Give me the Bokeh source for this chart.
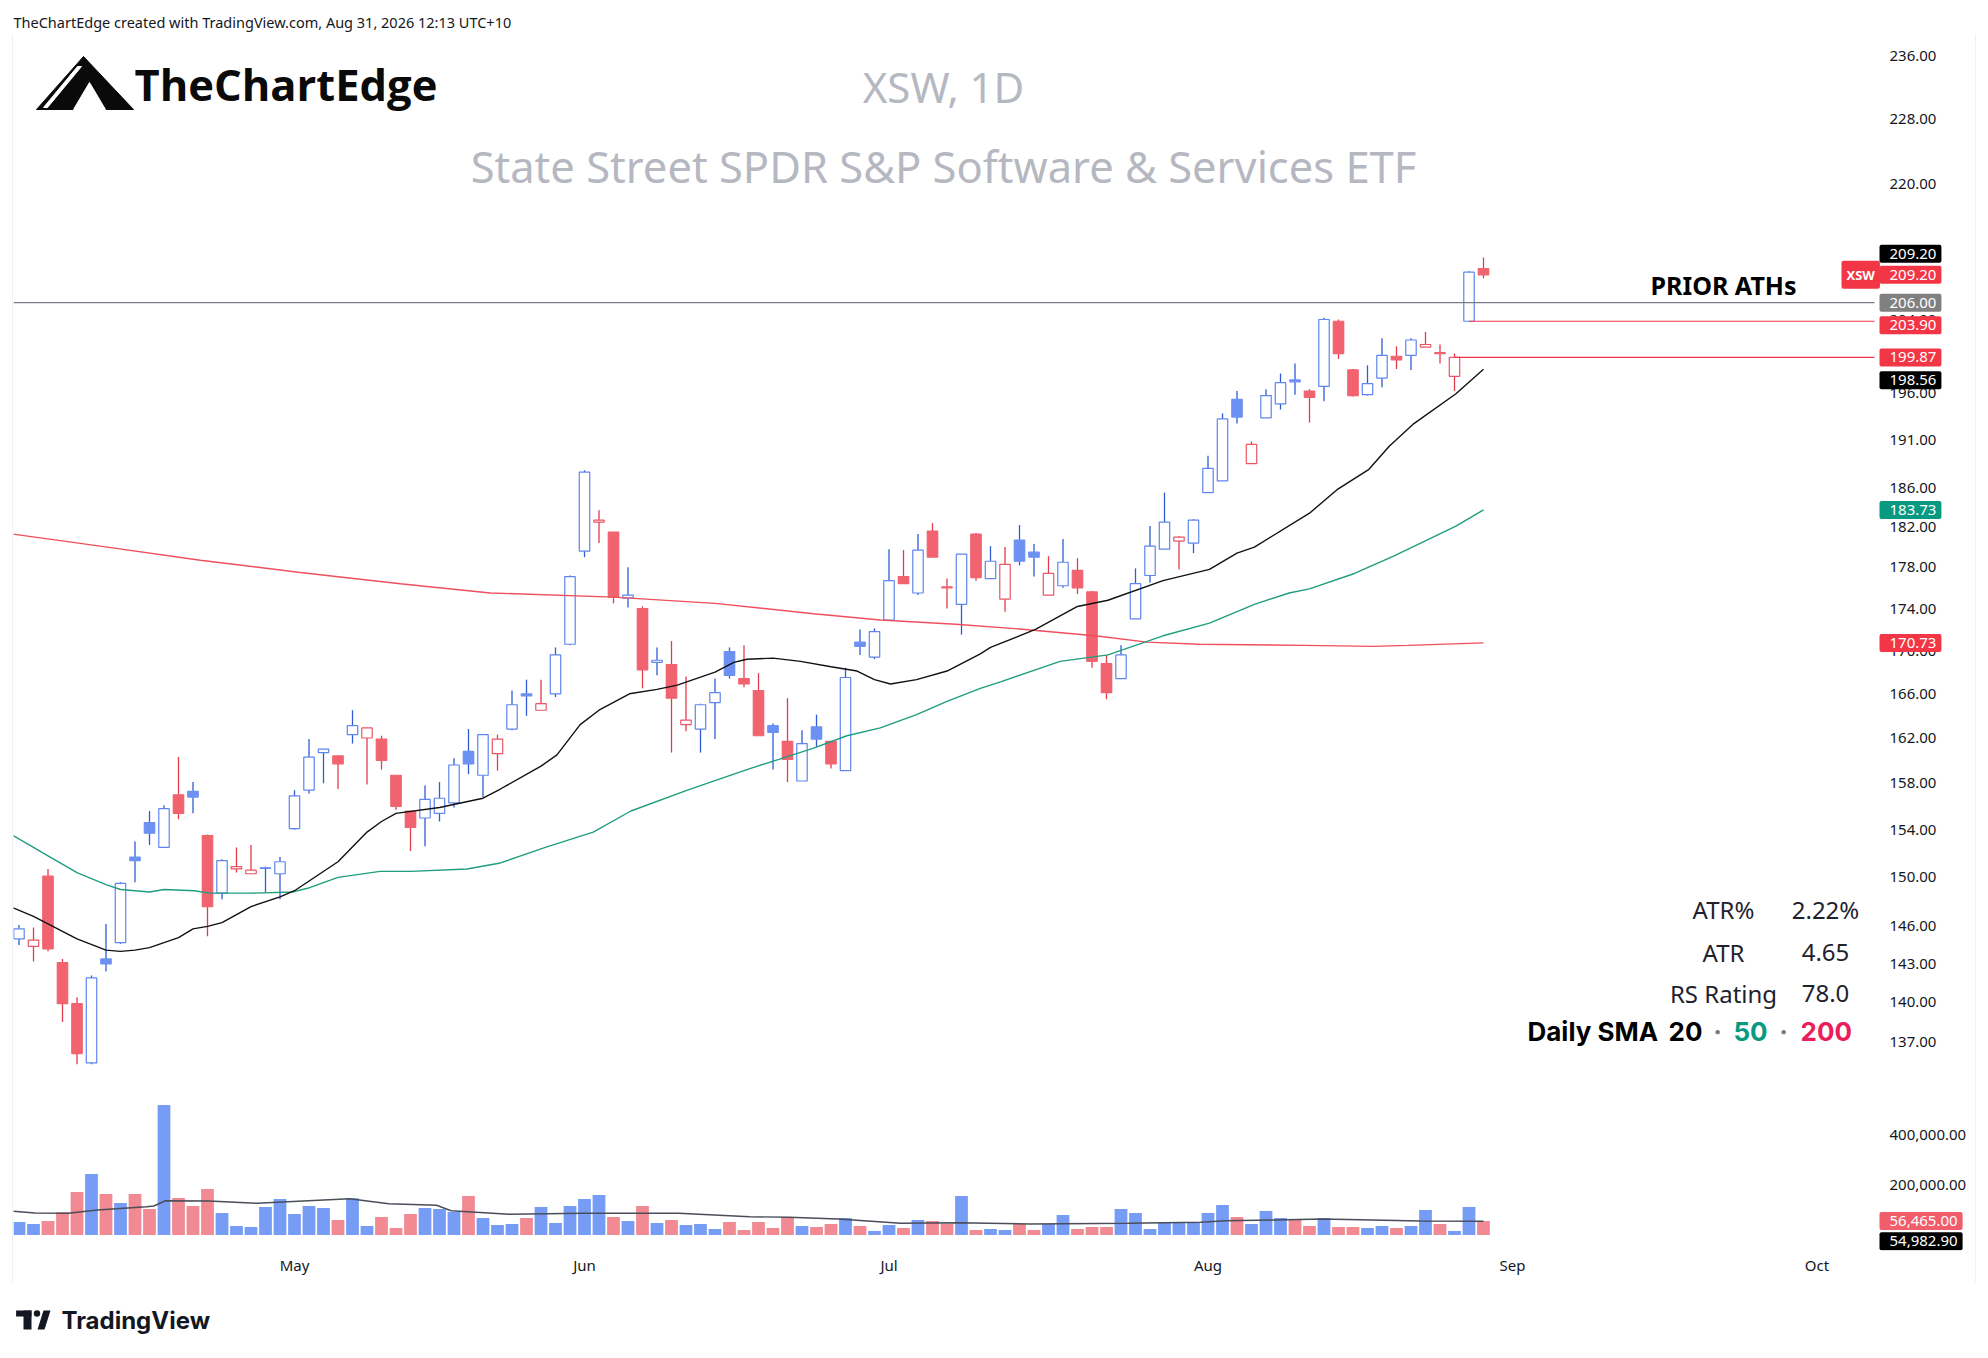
import numpy as np
import pandas as pd
from bokeh.plotting import figure
from bokeh.models import (Range1d, FixedTicker, Label, ColumnDataSource, LinearScale, Spacer)
from bokeh.layouts import column, row
from bokeh.embed import file_html
from bokeh.resources import INLINE

# ---------------------------------------------------------------- data
start_date = "2026-04-06"
end_date = "2026-10-30"
holidays = ["2026-05-25", "2026-06-19", "2026-07-03", "2026-09-07"]

opens = [145.0, 144.4, 150.1, 143.1, 139.9, 135.4, 143.4, 144.7, 151.7, 154.6,
         152.5, 157.0, 157.3, 153.5, 148.7, 150.7, 150.3, 150.75, 150.3, 154.1,
         157.4, 160.7, 160.4, 162.3, 162.0, 161.9, 158.7, 155.6, 155.0, 155.4,
         156.3, 160.8, 158.7, 160.6, 162.8, 166.0, 164.5, 166.0, 170.6, 179.6,
         182.5, 181.5, 175.0, 174.0, 168.9, 168.7, 163.2, 162.8, 165.2, 169.9,
         167.4, 166.3, 163.1, 161.7, 158.2, 163.0, 161.7, 159.1, 170.8, 169.4,
         172.9, 177.1, 175.5, 181.6, 176.1, 174.4, 181.3, 176.9, 174.9, 180.7,
         179.5, 175.3, 176.2, 177.7, 175.6, 168.8, 167.4, 173.0, 177.2, 179.8,
         180.6, 180.4, 185.5, 186.7, 195.3, 188.5, 193.3, 194.8, 197.4, 196.2,
         196.7, 203.9, 198.5, 195.8, 197.6, 200.0, 200.1, 201.0, 200.4, 197.8,
         203.9, 209.9]
highs = [146.1, 145.9, 150.7, 143.4, 140.4, 142.1, 146.2, 149.6, 153.0, 155.6,
         156.1, 160.3, 158.1, 153.6, 151.5, 152.5, 152.7, 150.9, 151.7, 157.4,
         161.9, 161.0, 160.4, 164.5, 162.9, 162.2, 158.7, 155.6, 157.8, 158.1,
         160.2, 162.8, 162.3, 162.3, 166.3, 167.3, 167.3, 170.3, 177.2, 187.8,
         183.7, 181.5, 178.0, 174.2, 170.3, 170.9, 167.6, 165.1, 167.4, 170.3,
         170.5, 167.9, 163.3, 165.6, 162.7, 164.1, 161.7, 168.4, 172.0, 172.1,
         179.8, 179.7, 181.3, 182.4, 176.9, 179.3, 181.4, 180.1, 180.0, 182.2,
         180.3, 179.1, 180.8, 178.9, 175.7, 169.6, 170.5, 177.9, 182.1, 185.5,
         181.1, 182.8, 189.3, 193.8, 196.2, 190.8, 196.4, 198.1, 199.2, 196.4,
         204.3, 204.1, 198.6, 199.0, 202.0, 201.1, 202.0, 202.7, 201.3, 200.3,
         209.6, 211.2]
lows = [144.5, 143.2, 144.0, 138.5, 135.3, 135.3, 142.4, 144.6, 149.6, 152.7,
        152.5, 154.9, 155.4, 145.2, 148.2, 150.4, 150.3, 148.8, 148.2, 154.0,
        157.1, 158.0, 157.5, 161.5, 157.9, 159.2, 155.7, 152.2, 152.6, 154.7,
        155.9, 158.8, 156.8, 159.1, 162.7, 164.0, 164.5, 165.7, 170.5, 179.0,
        180.4, 174.5, 174.1, 166.5, 167.7, 160.7, 162.6, 160.7, 161.9, 167.4,
        166.6, 162.2, 159.2, 158.1, 158.2, 161.2, 159.3, 159.1, 169.6, 169.2,
        172.8, 176.4, 175.3, 179.0, 174.0, 171.5, 176.7, 176.9, 173.7, 178.2,
        177.1, 175.3, 176.0, 175.4, 168.4, 165.5, 167.4, 173.0, 176.5, 179.8,
        177.8, 179.4, 185.5, 186.7, 192.7, 188.5, 193.3, 194.2, 195.8, 192.8,
        195.1, 199.7, 195.6, 195.7, 196.6, 198.6, 198.5, 201.0, 199.2, 196.2,
        203.9, 208.8]
closes = [145.8, 144.9, 144.2, 139.9, 136.1, 141.9, 143.0, 149.5, 151.4, 153.7,
          155.8, 155.4, 156.8, 147.6, 151.4, 150.9, 150.6, 150.8, 151.3, 156.9,
          160.3, 161.0, 159.7, 163.1, 162.9, 160.0, 156.0, 154.2, 156.6, 156.7,
          159.6, 159.7, 162.3, 161.9, 165.0, 165.8, 165.1, 169.6, 177.1, 187.6,
          182.7, 175.1, 175.3, 168.2, 169.1, 165.6, 163.6, 165.0, 166.1, 167.7,
          166.9, 162.2, 162.5, 160.1, 161.5, 161.9, 159.7, 167.5, 170.4, 171.8,
          176.7, 176.4, 179.7, 179.0, 176.0, 179.3, 177.0, 178.6, 178.3, 178.6,
          179.0, 177.4, 178.5, 176.0, 169.0, 166.1, 169.6, 176.4, 180.1, 182.5,
          181.0, 182.7, 188.0, 193.2, 193.4, 190.5, 195.7, 197.1, 197.2, 195.5,
          204.1, 200.3, 195.7, 197.0, 200.1, 199.6, 201.8, 201.3, 200.3, 199.87,
          209.5, 209.2]
volumes = [52000, 44000, 56000, 91000, 172000, 244000, 164000, 128000, 164000, 104000,
           520000, 148000, 116000, 184000, 88000, 36000, 32000, 112000, 144000, 84000,
           116000, 108000, 60000, 147000, 36000, 72000, 28000, 84000, 108000, 104000,
           92000, 156000, 68000, 40000, 44000, 68000, 112000, 48000, 116000, 144000,
           160000, 72000, 56000, 116000, 48000, 60000, 40000, 44000, 24000, 52000,
           20000, 52000, 28000, 68000, 36000, 32000, 44000, 68000, 36000, 16000,
           40000, 28000, 60000, 56000, 44000, 156000, 20000, 24000, 20000, 44000,
           20000, 44000, 80000, 24000, 32000, 32000, 104000, 88000, 24000, 51000,
           52000, 52000, 88000, 120000, 72000, 44000, 96000, 68000, 64000, 36000,
           68000, 32000, 32000, 28000, 36000, 28000, 36000, 100000, 44000, 16000,
           112000, 56465]

# moving averages (bar position, value)
sma20_x = [-0.4, 1, 2, 4, 6, 7, 8, 9, 11, 12, 13, 14, 16, 18, 19, 22, 24, 25, 26, 29,
           32, 33.2, 36, 37.1, 38.7, 40, 42.1, 44, 45.4, 48, 49.3, 50.2, 52, 53.9, 56,
           57.8, 59, 60.1, 61.9, 64, 66.3, 67, 70.1, 73, 75.1, 78.9, 82.1, 84, 85.2, 89,
           90.9, 93.1, 94.5, 96.2, 99.1, 101]
sma20_y = [147.5, 146.8, 146.2, 145.0, 144.1, 144.0, 144.1, 144.3, 145.1, 145.8,
           146.0, 146.3, 147.6, 148.4, 148.9, 151.3, 153.8, 154.7, 155.4, 155.9,
           156.7, 157.5, 159.5, 160.5, 163.2, 164.5, 166.0, 166.4, 166.8, 168.0,
           168.9, 169.2, 169.3, 169.0, 168.5, 168.1, 167.3, 166.9, 167.3, 168.1,
           169.7, 170.3, 172.0, 174.2, 174.8, 176.7, 177.8, 179.4, 180.0, 183.4,
           185.8, 187.9, 190.3, 192.7, 195.9, 198.56]
sma50_x = [-0.4, 1, 2, 4, 6, 7, 9, 10, 12.1, 13.1, 16, 18.9, 19.9, 22, 24.9, 27, 30.9,
           33.2, 36.3, 39.6, 42.2, 46.1, 50.2, 52.4, 54.8, 57.1, 59.4, 61.9, 64, 66.3,
           67.7, 71.8, 75.1, 76.6, 78.9, 82.1, 85.2, 87.6, 89, 92.1, 94.8, 99.1, 101]
sma50_y = [153.5, 152.5, 151.8, 150.4, 149.4, 149.0, 148.8, 149.0, 148.9, 148.7,
           148.7, 148.8, 149.1, 150.0, 150.5, 150.5, 150.7, 151.2, 152.5, 153.8,
           155.6, 157.4, 159.2, 160.1, 161.1, 162.2, 162.9, 164.1, 165.3, 166.5,
           167.1, 169.0, 169.6, 170.3, 171.4, 172.6, 174.4, 175.5, 175.9, 177.4,
           179.1, 182.1, 183.73]
sma200_x = [-0.4, 5.6, 12.5, 19.4, 26.3, 32.5, 41, 48, 54.8, 59.4, 64.6, 69.4, 74.2,
            77.8, 81.4, 88.6, 93.4, 95.8, 101]
sma200_y = [181.3, 180.1, 178.7, 177.5, 176.4, 175.5, 175.1, 174.5, 173.5, 172.9,
            172.5, 172.0, 171.4, 170.8, 170.6, 170.5, 170.4, 170.5, 170.73]
vma_x = [-0.4, 1.1, 3.4, 5.4, 8.8, 9.3, 10.1, 13.1, 16.4, 22.8, 25.5, 28.8, 29.8, 33.8,
         38.9, 45.5, 50.4, 53.1, 56.5, 60.8, 64.8, 69.8, 76.5, 81.5, 83.2, 86.6, 89.9,
         93.3, 96.6, 101]
vma_y = [95000, 88000, 87000, 100000, 113000, 116000, 137000, 136000, 127000, 145000,
         125000, 119000, 97000, 83000, 87000, 87000, 73000, 71000, 64000, 47000,
         49000, 44000, 47000, 51000, 57000, 60000, 64000, 60000, 56000, 54982.9]

prior_ath = 206.00
black_close_tag = 209.20
price_ticks = [137, 140, 143, 146, 150, 154, 158, 162, 166, 170, 174, 178, 182, 186,
               191, 196, 200, 204, 212, 220, 228, 236]
vol_ticks = [200000, 400000]
ticker_name = "XSW"
title_1 = "XSW, 1D"
title_2 = "State Street SPDR S&P Software & Services ETF"
header_text = "TheChartEdge created with TradingView.com, Aug 31, 2026 12:13 UTC+10"
stat_labels = ["ATR%", "ATR", "RS Rating"]
stat_values = ["2.22%", "4.65", "78.0"]

# ---------------------------------------------------------------- derived
days = pd.bdate_range(start_date, end_date)
days = days[~days.isin(pd.to_datetime(holidays))]
month_idx, month_lbl = [], []
for k in range(1, len(days)):
    if days[k].month != days[k - 1].month:
        month_idx.append(k)
        month_lbl.append(days[k].strftime("%b"))

o = np.array(opens); h = np.array(highs); l = np.array(lows); c = np.array(closes)
n = len(c)
xs = np.arange(n)
prev = np.concatenate([[o[0]], c[:-1]])
up = c >= prev
hollow = c >= o

BLUE_BODY, BLUE_EDGE, BLUE_WICK = "#6d91f2", "#5f86ef", "#2f5cd6"
RED_BODY, RED_EDGE, RED_WICK = "#f0636f", "#ec5664", "#e03c4b"
VOL_BLUE, VOL_RED = "#769cf6", "#f18a93"
TEAL, RED = "#089981", "#f23645"
AX_FONT = "Noto Sans"
TXT = "#131722"

fill = np.where(hollow, "white", np.where(up, BLUE_BODY, RED_BODY))
edge = np.where(up, np.where(hollow, BLUE_EDGE, BLUE_BODY), np.where(hollow, RED_EDGE, RED_BODY))
wick = np.where(up, BLUE_WICK, RED_WICK)

src = ColumnDataSource(dict(x=xs, top=np.maximum(o, c), bottom=np.minimum(o, c), high=h, low=l,
                            fill=list(fill), edge=list(edge), wick=list(wick)))
vsrc = ColumnDataSource(dict(x=xs, vol=volumes,
                             vcol=[VOL_BLUE if cc >= oo else VOL_RED for oo, cc in zip(o, c)]))

# ---------------------------------------------------------------- geometry
W = 1962          # chart width inside the border (plot area + price scale)
PW = 1861         # width of the plot area (left of the price scale)
PH = 1053         # price pane height
VH = 192          # volume pane + date axis
BAR0, BARW = 5.5, 14.5          # first bar pixel (relative to pane) and bar spacing
x0 = -BAR0 / BARW
x_plot_end = (PW - BAR0) / BARW
xr = Range1d(x0, (W - BAR0) / BARW)
LBL_X = 1876      # left edge of scale labels (pane pixels)


def scale_text(fig, values, texts):
    fig.text(x=[LBL_X] * len(values), y=values, text=texts, x_range_name="px",
             text_font={"value": AX_FONT}, text_font_size="15px", text_color=TXT,
             text_align="left", text_baseline="middle")


def scale_box(fig, y, text, bg, y_off=0):
    fig.add_layout(Label(x=LBL_X - 10, y=y, x_range_name="px", text=text,
                         text_font=AX_FONT, text_font_size="15px", text_color="white",
                         text_align="left", text_baseline="middle", y_offset=y_off,
                         background_fill_color=bg, border_radius=2,
                         padding=dict(left=10, right=5, top=4, bottom=4)))


# ---------------------------------------------------------------- price pane
p = figure(width=W, height=PH, x_range=xr, y_range=Range1d(133.5, 238.74),
           y_axis_type="log", y_axis_location=None, x_axis_location=None,
           toolbar_location=None, output_backend="svg", min_border=0,
           outline_line_color=None, background_fill_color="white", border_fill_color="white")
p.grid.visible = False
p.extra_x_ranges = {"px": Range1d(0, W)}
p.extra_y_ranges = {"py": Range1d(0, PH)}
p.extra_x_scales = {"px": LinearScale()}
p.extra_y_scales = {"py": LinearScale()}

scale_text(p, price_ticks, [f"{t:.2f}" for t in price_ticks])

# candles
p.segment(x0="x", y0="high", x1="x", y1="top", line_color="wick", line_width=1.3, source=src)
p.segment(x0="x", y0="bottom", x1="x", y1="low", line_color="wick", line_width=1.3, source=src)
p.vbar(x="x", width=0.72, top="top", bottom="bottom", fill_color="fill",
       line_color="edge", line_width=1.2, source=src)

# moving averages
p.line(sma200_x, sma200_y, line_color="#ef4f5d", line_width=1.4)
p.line(sma50_x, sma50_y, line_color="#1f9d7e", line_width=1.4)
p.line(sma20_x, sma20_y, line_color="#111111", line_width=1.4)

# horizontal levels (end at the price scale)
p.segment(x0=[x0], y0=[prior_ath], x1=[x_plot_end], y1=[prior_ath],
          line_color="#787b86", line_width=1.2)
gap_start = [n - 3, n - 2]
gap_level = [closes[n - 3], opens[n - 2]]
p.segment(x0=gap_start, y0=gap_level, x1=[x_plot_end] * 2, y1=gap_level,
          line_color=RED, line_width=1.2)

scale_box(p, black_close_tag, f"{black_close_tag:.2f}", "#000000", 21)
scale_box(p, closes[-1], f"{closes[-1]:.2f}", RED)
scale_box(p, prior_ath, f"{prior_ath:.2f}", "#808080")
scale_box(p, opens[n - 2], f"{opens[n - 2]:.2f}", RED, -4)
scale_box(p, closes[n - 3], f"{closes[n - 3]:.2f}", RED)
scale_box(p, sma20_y[-1], f"{sma20_y[-1]:.2f}", "#000000", -11)
scale_box(p, sma50_y[-1], f"{sma50_y[-1]:.2f}", TEAL)
scale_box(p, sma200_y[-1], f"{sma200_y[-1]:.2f}", RED)
p.add_layout(Label(x=1828, y=closes[-1], x_range_name="px", text=ticker_name,
                   text_font=AX_FONT, text_font_size="13px", text_font_style="bold",
                   text_color="white", text_align="left", text_baseline="middle",
                   background_fill_color=RED, border_radius=2,
                   padding=dict(left=5, right=5, top=5, bottom=5)))

# watermark titles
p.add_layout(Label(x=930, y=1002, x_range_name="px", y_range_name="py", text=title_1,
                   text_font=AX_FONT, text_font_size="42px", text_color="#b5b8c1",
                   text_align="center", text_baseline="middle"))
p.add_layout(Label(x=930, y=923, x_range_name="px", y_range_name="py", text=title_2,
                   text_font=AX_FONT, text_font_size="43.5px", text_color="#b5b8c1",
                   text_align="center", text_baseline="middle"))

# logo
p.patch([23, 70, 120], [979, 1032, 979], x_range_name="px", y_range_name="py",
        fill_color="#0a0a0a", line_color="#0a0a0a")
p.patch([64, 68, 34, 30], [1022, 1022, 981, 981], x_range_name="px", y_range_name="py",
        fill_color="white", line_color="white")
p.patch([60, 76, 92], [979, 1006, 979], x_range_name="px", y_range_name="py",
        fill_color="white", line_color="white")
p.add_layout(Label(x=121, y=1004, x_range_name="px", y_range_name="py", text="TheChartEdge",
                   text_font="Open Sans", text_font_size="43.5px", text_font_style="bold",
                   text_color="#0a0a0a", text_align="left", text_baseline="middle"))

# annotation
p.add_layout(Label(x=1710, y=804, x_range_name="px", y_range_name="py", text="PRIOR ATHs",
                   text_font=AX_FONT, text_font_size="25px", text_font_style="bold",
                   text_color="#000000", text_align="center", text_baseline="middle"))

# stats table
for lab, val, yy in zip(stat_labels, stat_values, [179, 136, 95]):
    p.add_layout(Label(x=1710, y=yy, x_range_name="px", y_range_name="py", text=lab,
                       text_font=AX_FONT, text_font_size="24px", text_color="#1e222d",
                       text_align="center", text_baseline="middle"))
    p.add_layout(Label(x=1812, y=yy, x_range_name="px", y_range_name="py", text=val,
                       text_font=AX_FONT, text_font_size="24px", text_color="#1e222d",
                       text_align="center", text_baseline="middle"))
sma_parts = [("Daily SMA", 1514, "left", "#000000"), ("20", 1655, "left", "#000000"),
             ("·", 1704, "center", "#787b86"), ("50", 1720, "left", TEAL),
             ("·", 1770, "center", "#787b86"), ("200", 1787, "left", "#e91e5a")]
for txt, xx, al, col in sma_parts:
    p.add_layout(Label(x=xx, y=57, x_range_name="px", y_range_name="py", text=txt,
                       text_font="Inter", text_font_size="26px", text_font_style="bold",
                       text_color=col, text_align=al, text_baseline="middle"))

# ---------------------------------------------------------------- volume pane
vol = figure(width=W, height=VH, x_range=xr, y_range=Range1d(-62000, 582000),
             y_axis_location=None, toolbar_location=None, output_backend="svg",
             min_border_left=0, min_border_right=0, min_border_top=0, min_border_bottom=31,
             outline_line_color=None, background_fill_color="white", border_fill_color="white")
vol.grid.visible = False
vol.extra_x_ranges = {"px": Range1d(0, W)}
vol.extra_x_scales = {"px": LinearScale()}
vol.vbar(x="x", width=0.88, top="vol", bottom=0, fill_color="vcol", line_color=None, source=vsrc)
vol.line(vma_x, vma_y, line_color="#4a4e58", line_width=1.4)
scale_text(vol, vol_ticks, [f"{t:,.2f}" for t in vol_ticks])

vx = vol.xaxis[0]
vx.ticker = FixedTicker(ticks=month_idx)
vx.major_label_overrides = {k: s for k, s in zip(month_idx, month_lbl)}
vx.major_tick_line_color = None
vx.minor_tick_line_color = None
vx.axis_line_color = None
vx.major_label_standoff = -2
vx.major_label_text_font = AX_FONT
vx.major_label_text_font_size = "15px"
vx.major_label_text_color = TXT

scale_box(vol, volumes[-1], f"{volumes[-1]:,.2f}", "#f05d6b")
scale_box(vol, vma_y[-1], f"{vma_y[-1]:,.2f}", "#000000", -20)

# ---------------------------------------------------------------- frame pieces
def blank(w, h, bg="white"):
    f = figure(width=w, height=h, x_range=Range1d(0, w), y_range=Range1d(0, h),
               toolbar_location=None, output_backend="svg", min_border=0,
               x_axis_location=None, y_axis_location=None, outline_line_color=None,
               background_fill_color=bg, border_fill_color=bg)
    f.grid.visible = False
    return f

BORDER = "#e0e3eb"
header = blank(1976, 34)
header.add_layout(Label(x=13, y=13, text=header_text, text_font=AX_FONT, text_font_size="14.5px",
                        text_color=TXT, text_baseline="middle", text_align="left"))

footer = blank(1976, 68)
footer.quad(left=[15.6, 23], right=[31, 31], bottom=[34, 21], top=[40, 40],
            fill_color=TXT, line_color=None)
footer.circle(x=[36.5], y=[37], radius=3.2, fill_color=TXT, line_color=None)
footer.patch([37, 44, 50, 43], [21, 21, 40, 40], fill_color=TXT, line_color=None)
footer.add_layout(Label(x=61, y=30, text="TradingView", text_font="Inter",
                        text_font_size="24px", text_font_style="bold", text_color=TXT,
                        text_baseline="middle", text_align="left"))

chart = column(blank(W, 1, BORDER), p, blank(W, 1, BORDER), vol, blank(W, 1, BORDER))
mid = row(Spacer(width=12, height=PH + VH + 3), blank(1, PH + VH + 3, BORDER), chart,
          blank(1, PH + VH + 3, BORDER))
root = column(header, mid, footer)

open("out.html", "w").write(file_html(root, INLINE))
